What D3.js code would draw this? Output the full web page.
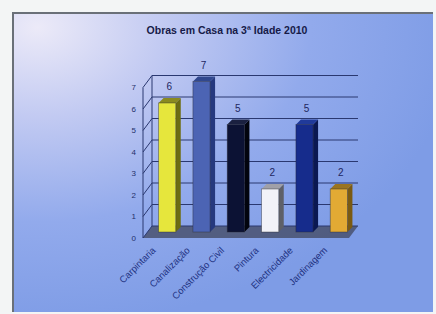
<!DOCTYPE html>
<html>
<head>
<meta charset="utf-8">
<script src="https://cdn.jsdelivr.net/npm/d3@7"></script>
<style>
  body { margin: 0; background: #f3f5f5; }
  svg { display: block; font-family: "Liberation Sans", Arial, sans-serif; }
</style>
</head>
<body>
<div id="chart"></div>
<script>
var categories = ["Carpintaria", "Canalização", "Construção Civil", "Pintura", "Electricidade", "Jardinagem"];
var values = [6, 7, 5, 2, 5, 2];
var yTicks = [0, 1, 2, 3, 4, 5, 6, 7];
var title = "Obras em Casa na 3ª Idade 2010";

var fronts = ["#e6e63c", "#4c64b4", "#0c1234", "#f2f2f8", "#162c8c", "#e2aa34"];
var sides  = ["#6c6c12", "#26397e", "#02040e", "#5e6068", "#0a1852", "#7a5a12"];
var tops   = ["#8a8a20", "#31488e", "#1a2040", "#a0a0a8", "#203a9a", "#9a7420"];

var width = 436, height = 314;
var DX = 9, DY = -12;   // depth of the 3D walls

var svg = d3.select("#chart").append("svg")
  .attr("width", width)
  .attr("height", height);

var defs = svg.append("defs");
var grad = defs.append("radialGradient")
  .attr("id", "bg")
  .attr("cx", "0.06").attr("cy", "0.05")
  .attr("r", "1.0");
grad.append("stop").attr("offset", "0").attr("stop-color", "#eceaf8");
grad.append("stop").attr("offset", "0.3").attr("stop-color", "#c2caf2");
grad.append("stop").attr("offset", "0.65").attr("stop-color", "#92aaec");
grad.append("stop").attr("offset", "1").attr("stop-color", "#7e9ce6");

// frame
svg.append("rect")
  .attr("x", 12).attr("y", 12)
  .attr("width", 421).attr("height", 300)
  .attr("fill", "url(#bg)");
svg.append("path")
  .attr("d", "M13,312 V13 H433")
  .attr("fill", "none")
  .attr("stroke", "#6a7078")
  .attr("stroke-width", 2);

svg.append("text")
  .attr("x", 227).attr("y", 34)
  .attr("text-anchor", "middle")
  .attr("font-size", 10.5)
  .attr("font-weight", "bold")
  .attr("fill", "#161a48")
  .text(title);

// scales: y for the back wall, bars sit half way in depth
var yBack = d3.scaleLinear().domain([0, 7]).range([226, 75.5]);
var x = d3.scaleBand().domain(categories).range([150, 356]).paddingInner(0.5).paddingOuter(0.25);

var wallL = 143, wallR = 349;
var yFront = function(v) { return yBack(v) - DY; };
var yBar = function(v) { return yBack(v) - DY / 2; };

// floor
svg.append("path")
  .attr("d", "M" + wallL + "," + yFront(0) + " L" + wallR + "," + yFront(0) +
             " L" + (wallR + DX) + "," + yBack(0) + " L" + (wallL + DX) + "," + yBack(0) + "Z")
  .attr("fill", "#454c66")
  .attr("opacity", 0.8);

// back wall grid
svg.append("g").selectAll("line")
  .data(yTicks)
  .enter().append("line")
  .attr("x1", wallL + DX).attr("x2", wallR + DX)
  .attr("y1", function(d) { return yBack(d); })
  .attr("y2", function(d) { return yBack(d); })
  .attr("stroke", "#2a3870")
  .attr("stroke-width", 1);

// side wall diagonals
svg.append("g").selectAll("line")
  .data(yTicks)
  .enter().append("line")
  .attr("x1", wallL).attr("x2", wallL + DX)
  .attr("y1", function(d) { return yFront(d); })
  .attr("y2", function(d) { return yBack(d); })
  .attr("stroke", "#2a3870")
  .attr("stroke-width", 1);

svg.append("line")
  .attr("x1", wallL).attr("x2", wallL)
  .attr("y1", yFront(0)).attr("y2", yFront(7))
  .attr("stroke", "#2a3870");
svg.append("line")
  .attr("x1", wallL + DX).attr("x2", wallL + DX)
  .attr("y1", yBack(0)).attr("y2", yBack(7))
  .attr("stroke", "#2a3870");

// y tick labels
svg.append("g").selectAll("text")
  .data(yTicks)
  .enter().append("text")
  .attr("x", wallL - 7)
  .attr("y", function(d) { return yFront(d); })
  .attr("dy", "0.35em")
  .attr("text-anchor", "end")
  .attr("font-size", 8)
  .attr("fill", "#24306a")
  .text(function(d) { return d; });

// bars
var bw = x.bandwidth(), sd = 5, st = -5;
var bars = svg.append("g").selectAll("g")
  .data(values)
  .enter().append("g");

bars.append("path")
  .attr("d", function(d, i) {
    var x1 = x(categories[i]) + bw;
    return "M" + x1 + "," + yBar(d) + " L" + (x1 + sd) + "," + (yBar(d) + st) +
           " L" + (x1 + sd) + "," + (yBar(0) + st) + " L" + x1 + "," + yBar(0) + "Z";
  })
  .attr("fill", function(d, i) { return sides[i]; });

bars.append("path")
  .attr("d", function(d, i) {
    var x0 = x(categories[i]), x1 = x0 + bw;
    return "M" + x0 + "," + yBar(d) + " L" + x1 + "," + yBar(d) +
           " L" + (x1 + sd) + "," + (yBar(d) + st) + " L" + (x0 + sd) + "," + (yBar(d) + st) + "Z";
  })
  .attr("fill", function(d, i) { return tops[i]; });

bars.append("rect")
  .attr("x", function(d, i) { return x(categories[i]); })
  .attr("y", function(d) { return yBar(d); })
  .attr("width", bw)
  .attr("height", function(d) { return yBar(0) - yBar(d); })
  .attr("fill", function(d, i) { return fronts[i]; })
  .attr("stroke", "#2a2a30")
  .attr("stroke-opacity", 0.5)
  .attr("stroke-width", 0.8);

// value labels
bars.append("text")
  .attr("x", function(d, i) { return x(categories[i]) + bw / 2 + 2; })
  .attr("y", function(d) { return yBar(d) - 13; })
  .attr("text-anchor", "middle")
  .attr("font-size", 10)
  .attr("fill", "#1e2660")
  .text(function(d) { return d; });

// category labels
svg.append("g").selectAll("text")
  .data(categories)
  .enter().append("text")
  .attr("transform", function(d) {
    return "translate(" + (x(d) + bw / 2 - 11) + "," + (yFront(0) + 13) + ") rotate(-45)";
  })
  .attr("text-anchor", "end")
  .attr("font-size", 9.5)
  .attr("fill", "#1e3282")
  .text(function(d) { return d; });
</script>
</body>
</html>
